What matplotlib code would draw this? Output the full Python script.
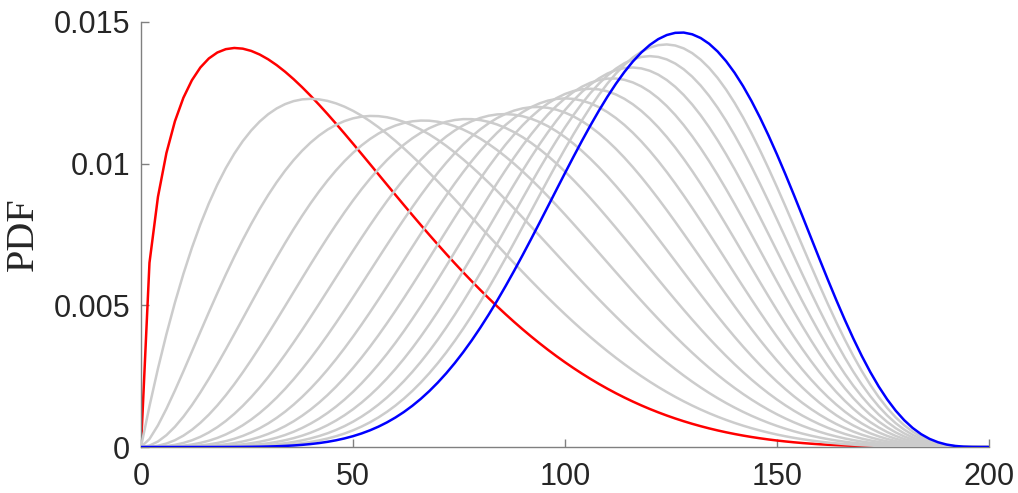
import math
import numpy as np
import matplotlib
matplotlib.use("Agg")
import matplotlib.pyplot as plt

# Data: beta-distribution shape parameters on support [0, 200]
x_values = np.arange(0, 201, 2)          # sample grid (step 2)
support_max = 200
alpha_red = 1.5
alpha_gray = [2.0, 2.5, 3.0, 3.5, 4.0, 4.5, 5.0, 5.5, 6.0, 6.5, 7.0, 7.5]
alpha_blue = 8.0
beta_shape = 5.0
x_ticks = [0, 50, 100, 150, 200]
y_ticks = [0, 0.005, 0.01, 0.015]
y_ticklabels = ["0", "0.005", "0.01", "0.015"]


def beta_pdf(x, a, b, scale):
    u = x / scale
    B = math.gamma(a) * math.gamma(b) / math.gamma(a + b)
    return u ** (a - 1) * (1 - u) ** (b - 1) / B / scale


fig = plt.figure(figsize=(10.18, 4.93), dpi=100)
ax = fig.add_axes([0.1385, 0.0933, 0.9715 - 0.1385, 0.9554 - 0.0933])

ax.plot(x_values, beta_pdf(x_values, alpha_red, beta_shape, support_max),
        color="#ff0000", lw=1.8, zorder=2)
for a in alpha_gray:
    ax.plot(x_values, beta_pdf(x_values, a, beta_shape, support_max),
            color="#cccccc", lw=1.8, zorder=3)
ax.plot(x_values, beta_pdf(x_values, alpha_blue, beta_shape, support_max),
        color="#0000ff", lw=1.8, zorder=4)

ax.set_xlim(0, 200)
ax.set_ylim(0, 0.015)
ax.set_xticks(x_ticks)
ax.set_yticks(y_ticks)
ax.set_yticklabels(y_ticklabels)
for s in ["top", "right"]:
    ax.spines[s].set_visible(False)
for s in ["left", "bottom"]:
    ax.spines[s].set_color("#808080")
    ax.spines[s].set_linewidth(1.0)
ax.tick_params(direction="in", length=6, width=1.0, color="#808080",
               labelsize=22, labelcolor="#262626", pad=8)
ax.tick_params(axis="x", pad=11)
for lab in ax.get_xticklabels() + ax.get_yticklabels():
    lab.set_family("Liberation Sans")
ax.set_ylabel("PDF", family="Liberation Serif", fontsize=29, color="#262626", labelpad=8)

fig.savefig("out.png", dpi=100)
